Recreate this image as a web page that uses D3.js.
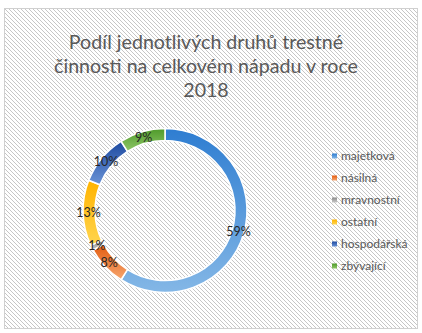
<!DOCTYPE html>
<html>
<head>
<meta charset="utf-8">
<script src="https://cdn.jsdelivr.net/npm/d3@7"></script>
<style>
  html, body { margin: 0; padding: 0; background: #fff; }
  svg { display: block; }
  text { font-family: Lato, "Open Sans", sans-serif; }
</style>
</head>
<body>
<svg id="chart" width="422" height="333"></svg>
<script>
// Categories and their shares (%)
const categories = ["majetková", "násilná", "mravnostní", "ostatní", "hospodářská", "zbývající"];
const shares = [59, 8, 1, 13, 10, 9];
// Gradient stops per category: [top, bottom]
const topColors = ["#2e7dd1", "#e35b0e", "#8c8c8c", "#ffb300", "#1e4aa0", "#4e9a2a"];
const bottomColors = ["#84b7e6", "#f6a56e", "#c8c8c8", "#ffd54f", "#6a93d6", "#8fc768"];
const titleLines = ["Podíl jednotlivých druhů trestné", "činnosti na celkovém nápadu v roce", "2018"];

const svg = d3.select("#chart");
const defs = svg.append("defs");

// Diagonal hatch used as chart-area fill
const hatch = defs.append("pattern")
  .attr("id", "hatch")
  .attr("patternUnits", "userSpaceOnUse")
  .attr("width", 4).attr("height", 4);
hatch.append("rect").attr("width", 4).attr("height", 4).attr("fill", "#ffffff");
[0, 1, 2, 3].forEach(i => {
  hatch.append("rect").attr("x", i).attr("y", i).attr("width", 1).attr("height", 1).attr("fill", "#c6c6c6");
});

// Vertical gradient for each slice (dark top → light bottom)
categories.forEach((c, i) => {
  const g = defs.append("linearGradient")
    .attr("id", "grad" + i)
    .attr("x1", 0).attr("y1", 0).attr("x2", 0).attr("y2", 1);
  g.append("stop").attr("offset", "0%").attr("stop-color", topColors[i]);
  g.append("stop").attr("offset", "100%").attr("stop-color", bottomColors[i]);
});

// Chart area
svg.append("rect")
  .attr("x", 4.5).attr("y", 8.5)
  .attr("width", 413).attr("height", 320)
  .attr("fill", "url(#hatch)")
  .attr("stroke", "#d0d0d0")
  .attr("stroke-width", 1);

// Title
svg.append("g").selectAll("text")
  .data(titleLines)
  .join("text")
  .attr("x", 206)
  .attr("y", (d, i) => 49 + i * 24)
  .attr("text-anchor", "middle")
  .attr("font-size", 19.6)
  .attr("fill", "#595959")
  .text(d => d);

// Donut
const cx = 165, cy = 210.5, rOuter = 82, rInner = 70;
const pie = d3.pie().sort(null).value(d => d);
const arcs = pie(shares);
const arc = d3.arc().innerRadius(rInner).outerRadius(rOuter);
const labelArc = d3.arc().innerRadius(76.5).outerRadius(76.5);

const donut = svg.append("g").attr("transform", `translate(${cx},${cy})`);
donut.selectAll("path")
  .data(arcs)
  .join("path")
  .attr("d", arc)
  .attr("fill", (d, i) => `url(#grad${i})`)
  .attr("stroke", "#ffffff")
  .attr("stroke-width", 1.5)
  .attr("stroke-linejoin", "round");

donut.selectAll("text")
  .data(arcs)
  .join("text")
  .attr("transform", d => `translate(${labelArc.centroid(d)})`)
  .attr("text-anchor", "middle")
  .attr("dy", "0.36em")
  .attr("font-size", 12.5)
  .attr("fill", "#262626")
  .text(d => d.data + "%");

// Legend
const legend = svg.append("g").attr("transform", "translate(332,156)");
const rowH = 22;
const items = legend.selectAll("g")
  .data(categories)
  .join("g")
  .attr("transform", (d, i) => `translate(0,${i * rowH})`);
items.append("rect")
  .attr("x", 0).attr("y", -2.5)
  .attr("width", 5).attr("height", 5)
  .attr("fill", (d, i) => `url(#grad${i})`);
items.append("text")
  .attr("x", 9)
  .attr("dy", "0.35em")
  .attr("font-size", 12)
  .attr("fill", "#595959")
  .text(d => d);
</script>
</body>
</html>
